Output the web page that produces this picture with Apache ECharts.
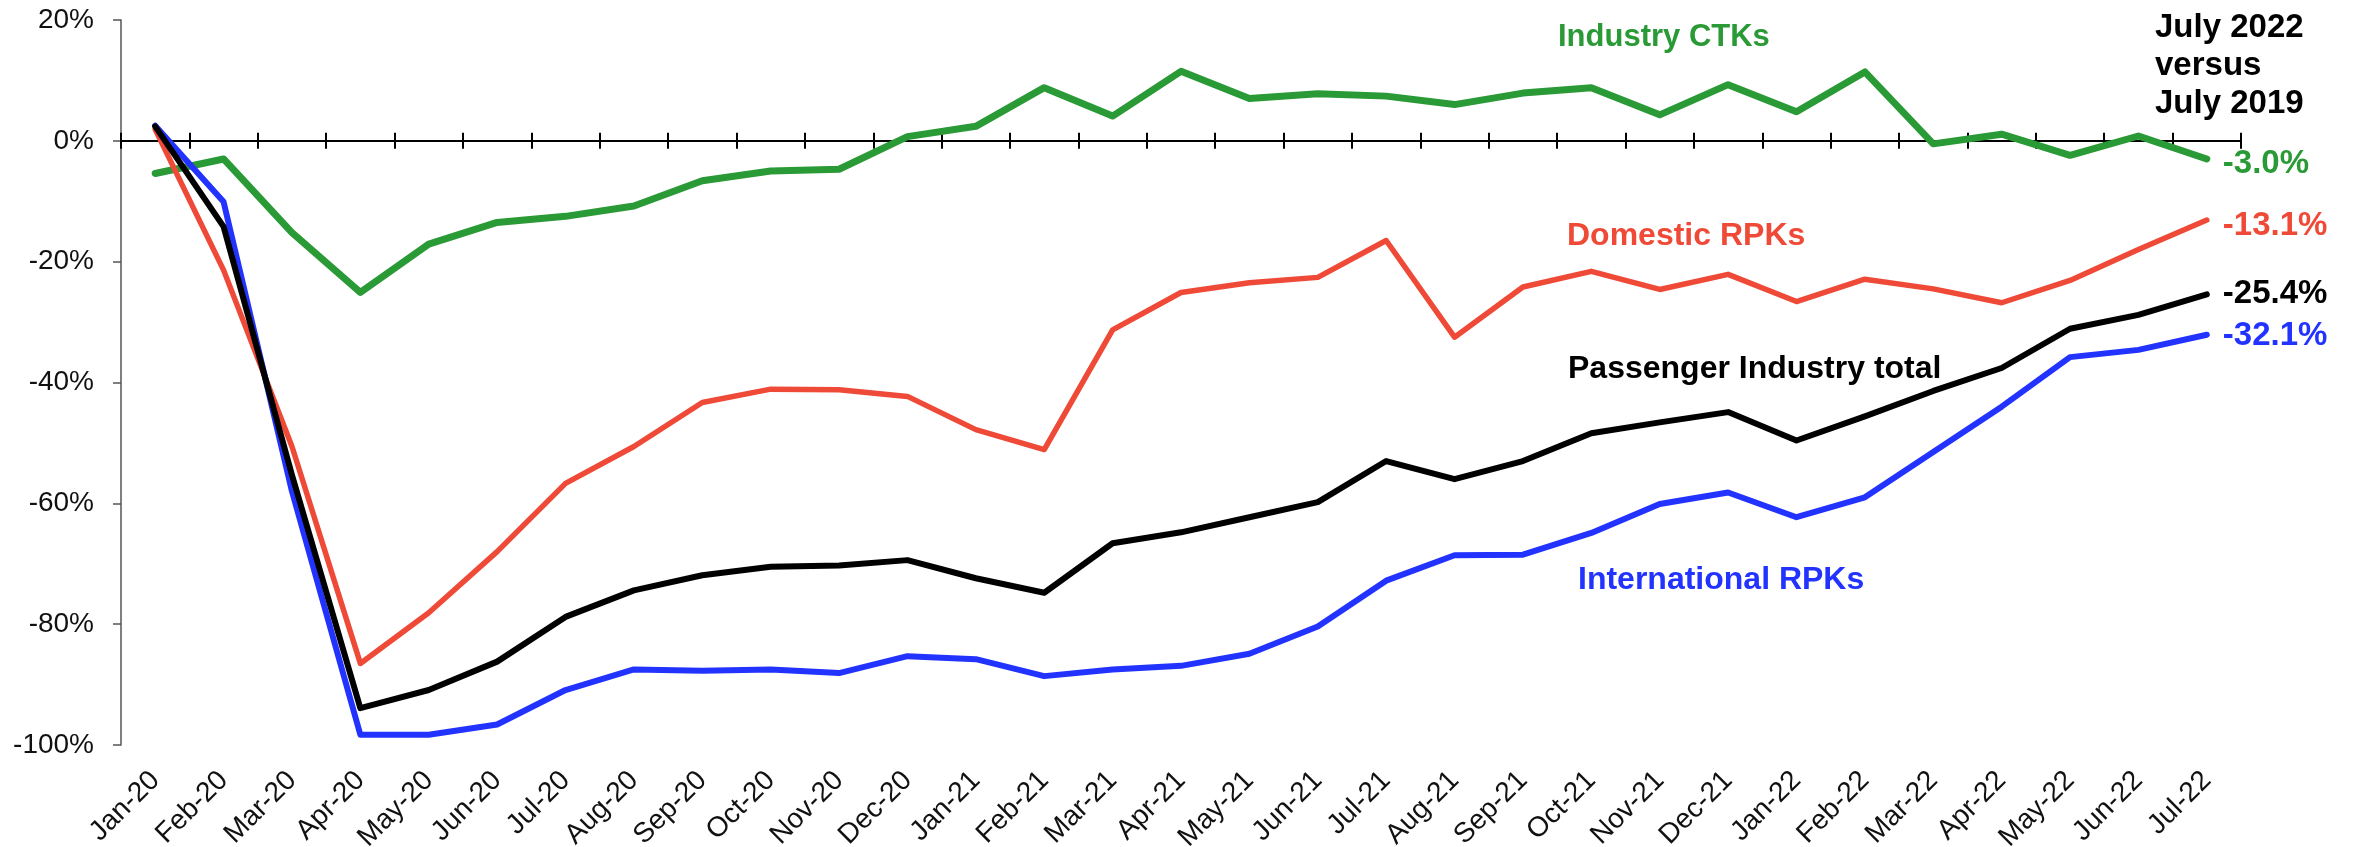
<!DOCTYPE html>
<html>
<head>
<meta charset="utf-8">
<title>Air traffic versus 2019</title>
<script src="https://cdn.jsdelivr.net/npm/echarts@6/dist/echarts.min.js"></script>
<style>
  html, body { margin: 0; padding: 0; background: #fff; }
  #chart { width: 2356px; height: 847px; }
</style>
</head>
<body>
<div id="chart"></div>
<script>
// months on the x axis
const months = [
  'Jan-20', 'Feb-20', 'Mar-20', 'Apr-20', 'May-20', 'Jun-20', 'Jul-20', 'Aug-20', 'Sep-20', 'Oct-20', 'Nov-20', 'Dec-20',
  'Jan-21', 'Feb-21', 'Mar-21', 'Apr-21', 'May-21', 'Jun-21', 'Jul-21', 'Aug-21', 'Sep-21', 'Oct-21', 'Nov-21', 'Dec-21',
  'Jan-22', 'Feb-22', 'Mar-22', 'Apr-22', 'May-22', 'Jun-22', 'Jul-22'
]

// % change versus the same month of 2019
const industryCTKs = [
  -5.4, -3.0, -15.2, -25.1, -17.1, -13.5, -12.5, -10.8, -6.6, -5.0, -4.7, 0.7,
  2.4, 8.8, 4.1, 11.5, 7.0, 7.8, 7.4, 6.0, 7.9, 8.8, 4.3, 9.3,
  4.8, 11.4, -0.5, 1.1, -2.4, 0.8, -3.0
]
const domesticRPKs = [
  1.9, -21.4, -50.6, -86.5, -78.1, -68.0, -56.7, -50.6, -43.3, -41.1, -41.2, -42.3,
  -47.8, -51.1, -31.3, -25.1, -23.5, -22.6, -16.5, -32.5, -24.2, -21.6, -24.6, -22.1,
  -26.6, -22.9, -24.5, -26.8, -23.1, -18.0, -13.1
]
const passengerTotal = [
  2.4, -14.2, -55.3, -93.9, -90.9, -86.2, -78.8, -74.4, -71.9, -70.5, -70.3, -69.4,
  -72.4, -74.8, -66.6, -64.8, -62.3, -59.8, -53.0, -56.0, -53.0, -48.4, -46.6, -44.9,
  -49.6, -45.6, -41.4, -37.6, -31.1, -28.8, -25.4
]
const internationalRPKs = [
  2.5, -10.1, -58.0, -98.3, -98.3, -96.6, -90.9, -87.5, -87.7, -87.5, -88.1, -85.3,
  -85.8, -88.6, -87.5, -86.9, -84.9, -80.4, -72.8, -68.6, -68.5, -64.9, -60.1, -58.2,
  -62.3, -59.0, -51.5, -44.0, -35.8, -34.6, -32.1
]

const yTicks = { min: -100, max: 20, step: 20 }

const FONT = "'Liberation Sans', Arial, sans-serif"
const GREEN = '#2a9a36'
const RED = '#ef4a37'
const BLACK = '#000000'
const BLUE = '#2333ff'

function lineSeries(name, data, color, width, offset) {
  return {
    name: name,
    type: 'line',
    xAxisIndex: 0,
    data: data,
    symbol: 'none',
    lineStyle: { color: color, width: width, join: 'round', cap: 'round' },
    endLabel: {
      show: true,
      distance: 16,
      offset: offset,
      color: color,
      fontFamily: FONT,
      fontWeight: 'bold',
      fontSize: 33,
      formatter: p => p.value.toFixed(1) + '%'
    }
  }
}

// zero line with ticks crossing it: one axis for the upper half, one for the lower
function zeroAxis(inside, lineShow) {
  return {
    type: 'category',
    data: months,
    position: 'bottom',
    axisLine: { show: lineShow, onZero: true, onZeroAxisIndex: 0, lineStyle: { color: '#000', width: 2 } },
    axisTick: { show: true, inside: inside, length: 8, lineStyle: { color: '#000', width: 2 } },
    axisLabel: { show: false },
    splitLine: { show: false }
  }
}

let chart = echarts.init(document.getElementById('chart'))
let option = {
  animation: false,
  backgroundColor: '#fff',
  // fixed plot box, labels may run to the edge like the original
  grid: { left: 121, right: 115, top: 20, bottom: 102, containLabel: false, outerBoundsMode: 'none' },
  xAxis: [
    {
      type: 'category',
      data: months,
      position: 'bottom',
      axisLine: { show: false, onZero: false },
      axisTick: { show: false },
      axisLabel: { rotate: 45, margin: 31, fontSize: 28, color: '#111', fontFamily: FONT },
      splitLine: { show: false }
    },
    zeroAxis(true, true),
    zeroAxis(false, false)
  ],
  yAxis: {
    type: 'value',
    min: yTicks.min,
    max: yTicks.max,
    interval: yTicks.step,
    axisLine: { show: true, lineStyle: { color: '#555', width: 1.5 } },
    axisTick: { show: true, length: 8, lineStyle: { color: '#555', width: 1.5 } },
    splitLine: { show: false },
    axisLabel: { formatter: '{value}%', fontSize: 28, margin: 27, color: '#111', fontFamily: FONT }
  },
  series: [
    lineSeries('Industry CTKs', industryCTKs, GREEN, 7, [0, 5]),
    lineSeries('Domestic RPKs', domesticRPKs, RED, 5.5, [0, 6]),
    lineSeries('International RPKs', internationalRPKs, BLUE, 6, [0, 1]),
    lineSeries('Passenger Industry total', passengerTotal, BLACK, 6, [0, 0])
  ],
  graphic: [
    { type: 'text', left: 1558, top: 22, style: { text: 'Industry CTKs', fill: GREEN, font: 'bold 31px ' + FONT } },
    { type: 'text', left: 1567, top: 220, style: { text: 'Domestic RPKs', fill: RED, font: 'bold 32px ' + FONT } },
    { type: 'text', left: 1568, top: 353, style: { text: 'Passenger Industry total', fill: BLACK, font: 'bold 32px ' + FONT } },
    { type: 'text', left: 1578, top: 564, style: { text: 'International RPKs', fill: BLUE, font: 'bold 32px ' + FONT } },
    {
      type: 'text', left: 2155, top: 9,
      style: { text: 'July 2022\nversus\nJuly 2019', fill: '#000', font: 'bold 33px ' + FONT, lineHeight: 38 }
    }
  ]
}
chart.setOption(option)
</script>
</body>
</html>
